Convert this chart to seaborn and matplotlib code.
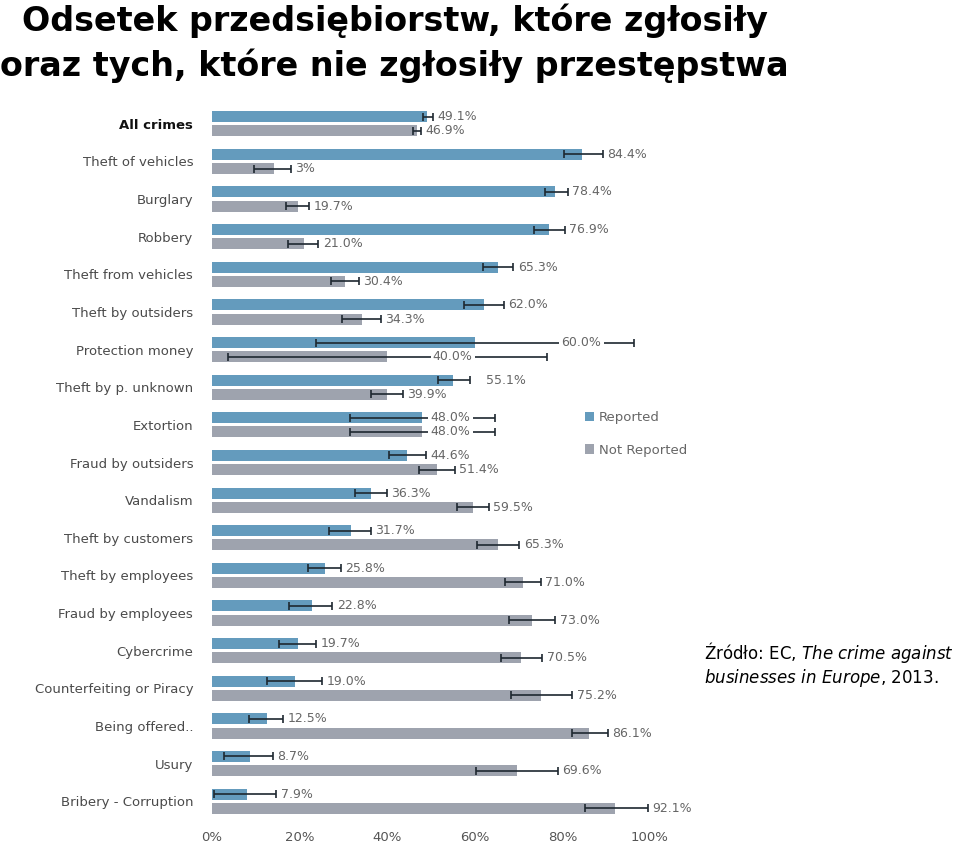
import numpy as np
import pandas as pd
import seaborn as sns
import matplotlib.pyplot as plt

# crime categories, top to bottom
categories = ["All crimes", "Theft of vehicles", "Burglary", "Robbery", "Theft from vehicles",
              "Theft by outsiders", "Protection money", "Theft by p. unknown", "Extortion",
              "Fraud by outsiders", "Vandalism", "Theft by customers", "Theft by employees",
              "Fraud by employees", "Cybercrime", "Counterfeiting or Piracy", "Being offered..",
              "Usury", "Bribery - Corruption"]

# bar lengths (%) as drawn
reported = [49.1, 84.4, 78.4, 76.9, 65.3, 62.0, 60.0, 55.1, 48.0, 44.6,
            36.3, 31.7, 25.8, 22.8, 19.7, 19.0, 12.5, 8.7, 7.9]
not_reported = [46.9, 14.2, 19.7, 21.0, 30.4, 34.3, 40.0, 39.9, 48.0, 51.4,
                59.5, 65.3, 71.0, 73.0, 70.5, 75.2, 86.1, 69.6, 92.1]

# confidence intervals (%)
reported_lo = [48.2, 80.3, 76.0, 73.6, 61.9, 57.5, 23.7, 51.5, 31.4, 40.4,
               32.7, 26.8, 21.9, 17.5, 15.4, 12.6, 8.5, 2.8, 0.4]
reported_hi = [50.5, 89.2, 81.2, 80.6, 68.8, 66.6, 96.4, 59.0, 64.6, 48.8,
               39.9, 36.3, 29.4, 27.5, 23.7, 25.2, 16.2, 13.9, 14.7]
not_reported_lo = [45.9, 9.6, 16.9, 17.3, 27.1, 29.7, 3.7, 36.3, 31.4, 47.2,
                   55.9, 60.5, 67.0, 67.8, 66.0, 68.3, 82.2, 60.3, 85.2]
not_reported_hi = [47.7, 18.0, 22.1, 24.3, 33.6, 38.6, 76.4, 43.6, 64.6, 55.5,
                   63.2, 70.2, 75.0, 78.4, 75.4, 82.3, 90.4, 79.0, 99.5]

# value labels as printed
reported_labels = ["49.1%", "84.4%", "78.4%", "76.9%", "65.3%", "62.0%", "60.0%", "55.1%",
                   "48.0%", "44.6%", "36.3%", "31.7%", "25.8%", "22.8%", "19.7%", "19.0%",
                   "12.5%", "8.7%", "7.9%"]
not_reported_labels = ["46.9%", "3%", "19.7%", "21.0%", "30.4%", "34.3%", "40.0%", "39.9%",
                       "48.0%", "51.4%", "59.5%", "65.3%", "71.0%", "73.0%", "70.5%", "75.2%",
                       "86.1%", "69.6%", "92.1%"]

series = ["Reported", "Not Reported"]

df = pd.DataFrame({
    "category": categories * 2,
    "series": [series[0]] * len(categories) + [series[1]] * len(categories),
    "value": reported + not_reported,
})

blue = "#649bbd"
grey = "#9ea3ae"
text_grey = "#4a4a4a"

fig = plt.figure(figsize=(9.6, 8.47), dpi=100)
ax = fig.add_axes([212 / 960, 1 - 820 / 847, 438 / 960, 715 / 847])

sns.barplot(data=df, y="category", x="value", hue="series", order=categories,
            hue_order=series, palette=[blue, grey], saturation=1, orient="h",
            width=0.755, gap=0.225, errorbar=None, ax=ax, legend=True)

ax.set_xlim(0, 100)
ax.set_ylim(len(categories) - 0.5, -0.5)

# bar centres from the drawn patches (first hue block = Reported)
n = len(categories)
bars = ax.patches[:2 * n]
lows = reported_lo + not_reported_lo
highs = reported_hi + not_reported_hi
labels = reported_labels + not_reported_labels
vals = reported + not_reported

# label start positions for the very wide intervals (label sits on the whisker)
overrides = {(6, 0): 79.8, (6, 1): 50.4, (8, 0): 49.9, (8, 1): 49.9, (7, 0): 62.6}

for i, p in enumerate(bars):
    yc = p.get_y() + p.get_height() / 2
    v = vals[i]
    ax.errorbar(v, yc, xerr=[[v - lows[i]], [highs[i] - v]], fmt="none",
                ecolor="#1e2830", elinewidth=1.2, capsize=3, capthick=1.2, zorder=3)
    key = (i % n, i // n)
    if key in overrides:
        xt = overrides[key]
        ax.text(xt, yc, labels[i], ha="left", va="center", fontsize=9, color="#666666",
                zorder=4, bbox=dict(facecolor="white", edgecolor="none", pad=1.5))
    else:
        ax.text(highs[i] + 1.0, yc, labels[i], ha="left", va="center", fontsize=9,
                color="#666666", zorder=4)

# axes cosmetics
for s in ax.spines.values():
    s.set_visible(False)
ax.set_xlabel("")
ax.set_ylabel("")
ax.set_xticks([0, 20, 40, 60, 80, 100])
ax.set_xticklabels(["0%", "20%", "40%", "60%", "80%", "100%"], fontsize=9.5, color="#555555")
ax.tick_params(axis="x", length=0, pad=8)
ax.tick_params(axis="y", length=0, pad=13.5)
for t in ax.get_yticklabels():
    t.set_fontsize(9.5)
    t.set_color(text_grey)
ax.get_yticklabels()[0].set_color("#111111")
ax.get_yticklabels()[0].set_fontweight("bold")
ax.grid(False)

# legend
leg = ax.legend(loc="upper left", bbox_to_anchor=(573 / 960, 1 - 399 / 847),
                bbox_transform=fig.transFigure, frameon=False, fontsize=9.5,
                handlelength=0.7, handleheight=0.7, handletextpad=0.35, labelspacing=1.5)
for t in leg.get_texts():
    t.set_color("#666666")

# title
fig.text(22 / 960, 1 - 31 / 847, "Odsetek przedsiębiorstw, które zgłosiły",
         fontsize=24, fontweight="bold", color="black", ha="left", va="baseline")
fig.text(0 / 960, 1 - 76 / 847, "oraz tych, które nie zgłosiły przestępstwa",
         fontsize=24, fontweight="bold", color="black", ha="left", va="baseline")

# source note
fig.text(704 / 960, 1 - 659 / 847, "Źródło: EC, $\\it{The\\ crime\\ against}$",
         fontsize=12, color="black", ha="left", va="baseline")
fig.text(704 / 960, 1 - 683 / 847, "$\\it{businesses\\ in\\ Europe}$, 2013.",
         fontsize=12, color="black", ha="left", va="baseline")

plt.savefig("out.png", dpi=100)
